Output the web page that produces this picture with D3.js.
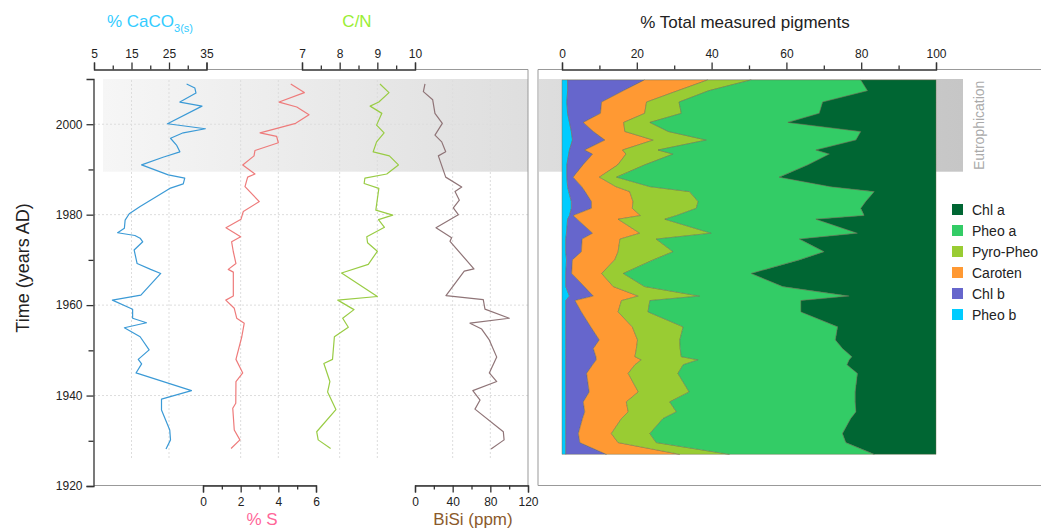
<!DOCTYPE html>
<html>
<head>
<meta charset="utf-8">
<script src="https://cdn.jsdelivr.net/npm/d3@7"></script>
<style>
  body { margin: 0; background: #fff; }
  text { font-family: "Liberation Sans", Arial, sans-serif; }
  .axis text { font-size: 12px; fill: #222; }
  .axis line, .axis path { stroke: #333; stroke-width: 1.3; fill: none; }
  .frame { stroke: #999; stroke-width: 1; fill: none; }
  .grid { stroke: #ddd; stroke-width: 1; stroke-dasharray: 2,2; }
</style>
</head>
<body>
<div id="chart"></div>
<script>
// ---- dados ----
var caco3Years  = [2008.9,2008.0,2006.9,2004.9,2004.0,2000.1,1999.0,1998.1,1996.9,1995.4,1993.9,1992.7,1991.0,1988.8,1988.1,1986.8,1985.8,1984.0,1981.8,1980.2,1978.8,1977.0,1976.0,1975.4,1974.8,1974.0,1972.2,1969.2,1967.9,1967.0,1962.2,1961.1,1959.1,1957.1,1956.1,1955.0,1953.0,1950.1,1948.0,1947.0,1945.0,1941.1,1939.2,1936.8,1932.4,1930.2,1928.2];
var caco3Values = [29.7,31.9,32.2,27.9,33.8,24.6,34.7,28.8,25.4,27.0,27.9,23.4,17.7,24.8,29.2,28.8,25.2,21.7,17.3,14.4,13.3,13.1,11.3,15.9,17.3,18.0,15.7,16.5,20.1,22.8,17.5,9.9,15.3,15.3,19.0,13.1,17.3,19.7,16.8,17.7,16.2,31.0,23.0,23.0,25.2,25.4,24.2];

var sYears  = [2008.9,2007.0,2004.9,2003.8,2002.1,2000.2,1998.1,1997.3,1995.9,1994.2,1993.0,1991.0,1989.0,1988.3,1986.2,1982.9,1980.7,1979.0,1977.1,1975.1,1974.0,1971.8,1969.2,1967.9,1967.3,1962.0,1961.1,1959.3,1957.1,1956.0,1953.0,1948.0,1945.0,1943.1,1938.3,1937.2,1932.4,1930.2,1928.3];
var sValues = [4.66,5.38,4.04,4.98,5.63,4.92,3.03,3.91,4.0,2.76,2.71,2.11,2.76,2.37,2.23,2.99,2.14,2.02,1.22,2.0,1.52,1.61,1.75,1.34,1.61,1.61,1.21,1.66,1.79,2.19,2.06,1.75,2.11,1.75,1.74,1.58,1.66,1.96,1.49];

var cnYears  = [2008.9,2007.0,2004.9,2004.0,2002.4,1999.8,1998.1,1996.1,1993.9,1993.0,1991.0,1989.0,1988.1,1986.9,1985.8,1981.0,1979.9,1978.9,1977.2,1975.1,1973.8,1971.9,1969.0,1967.1,1961.9,1961.1,1959.0,1957.1,1955.1,1953.0,1948.0,1947.1,1943.1,1940.8,1936.9,1932.0,1930.2,1928.3];
var cnValues = [9.07,9.31,9.04,8.81,9.12,8.98,9.18,8.98,8.89,9.32,9.56,9.25,8.67,8.65,9.04,8.96,9.41,9.03,9.19,8.72,8.74,9.0,8.76,8.05,9.0,7.95,8.38,8.08,8.23,7.86,7.81,7.58,7.74,7.68,7.90,7.39,7.43,7.76];

var bisiYears  = [2008.9,2007.2,2005.4,2002.4,2000.2,1997.6,1996.1,1993.9,1993.0,1988.3,1986.1,1985.1,1983.2,1981.5,1980.0,1977.1,1974.9,1974.1,1968.0,1967.5,1962.1,1961.2,1959.1,1957.1,1956.0,1954.7,1952.3,1948.5,1945.0,1943.1,1941.1,1939.0,1937.0,1932.0,1930.2,1928.2];
var bisiValues = [10.6,8.9,18.8,21.2,29.0,21.2,28.4,32.6,24.8,32.6,49.6,42.5,47.1,40.7,46.0,22.3,38.9,37.2,62.6,52.3,32.9,72.5,74.3,100.1,58.4,70.8,78.9,86.8,78.9,86.8,61.4,69.1,63.7,93.8,94.6,80.8];

// pigmentos (% do total), do mais à esquerda para o mais à direita
var pigYears = [2009.8,2007.4,2004.9,2002.4,2000.4,1998.4,1996.5,1994.3,1993.4,1991.0,1988.3,1986.2,1985.1,1982.9,1981.4,1979.8,1979.0,1975.9,1974.6,1971.8,1970.0,1967.0,1964.1,1962.0,1961.0,1958.5,1955.2,1952.3,1950.4,1948.6,1947.9,1946.8,1944.9,1940.8,1938.6,1936.4,1934.9,1931.6,1929.6,1927.0];
var pheoB    = [1.5,1.5,1.3,1.5,2.0,2.5,2.8,2.0,1.8,1.3,1.3,1.5,1.8,2.5,2.5,2.0,1.5,1.2,1.0,1.0,1.2,1.0,1.0,2.0,1.0,1.0,1.0,1.0,1.0,1.0,1.0,1.0,1.0,1.0,1.0,1.0,1.0,1.0,1.0,1.0];
var chlB     = [20.6,14.9,9.3,8.8,3.7,5.9,8.7,4.1,6.4,4.3,1.7,3.8,4.4,5.4,5.4,1.0,2.6,7.0,4.4,4.2,1.6,1.6,5.0,6.4,2.5,4.2,6.7,9.0,7.4,8.1,8.2,7.2,5.6,6.3,4.7,5.1,4.5,3.4,3.8,10.9];
var caroten  = [16.9,14.5,12.0,11.8,10.8,8.4,12.9,10.1,8.9,9.3,7.0,9.1,11.9,11.1,10.9,18.0,10.9,12.6,10.1,9.8,11.3,8.0,7.7,12.0,12.4,9.8,11.1,10.2,11.5,10.4,12.0,11.3,11.1,13.1,11.5,11.6,10.4,8.8,10.2,19.6];
var pyroPheo = [11.6,8.3,8.7,9.8,7.0,11.6,14.2,9.5,12.6,7.2,4.6,9.1,16.0,17.4,17.1,9.6,12.5,19.1,9.7,14.7,10.3,5.8,8.4,16.4,7.6,8.0,13.6,11.3,11.7,12.4,15.2,12.9,13.3,13.6,11.6,12.9,11.1,10.3,10.2,13.3];
var pheoA    = [29.3,42.5,38.4,36.9,36.9,51.5,40.0,42.2,41.8,43.6,43.5,48.3,49.4,44.8,44.0,50.2,40.4,39.1,38.3,40.4,39.1,34.2,36.9,40.0,40.4,40.9,41.3,41.6,43.4,45.6,40.4,43.8,48.0,44.4,49.6,48.0,50.2,51.5,50.7,38.7];
var chlA     = [20.1,18.3,30.3,31.2,39.6,20.1,21.4,32.1,28.5,34.3,41.9,28.2,16.5,18.8,20.1,19.2,32.1,21.0,36.5,29.9,36.5,49.4,41.0,23.2,36.1,36.1,26.3,26.9,25.0,22.5,23.2,23.8,21.0,21.6,21.6,21.4,22.8,25.0,24.1,16.5];

var pigKeys   = ["Pheo b", "Chl b", "Caroten", "Pyro-Pheo", "Pheo a", "Chl a"];
var pigSeries = [pheoB, chlB, caroten, pyroPheo, pheoA, chlA];
var pigColors = ["#00ccff", "#6666cc", "#ff9933", "#99cc33", "#33cc66", "#006633"];
var legendKeys = ["Chl a", "Pheo a", "Pyro-Pheo", "Caroten", "Chl b", "Pheo b"];

var yearTicks   = [1920, 1930, 1940, 1950, 1960, 1970, 1980, 1990, 2000];
var eutroPeriod = [1989.5, 2010];

// ---- svg ----
var width = 1041, height = 531;
var svg = d3.select("#chart").append("svg")
  .attr("width", width)
  .attr("height", height);

// escalas
var yScale = d3.scaleLinear().domain([1920, 2010]).range([486, 79]);
var caco3X = d3.scaleLinear().domain([5, 35]).range([94, 206.5]);
var sX     = d3.scaleLinear().domain([0, 6]).range([203, 316]);
var cnX    = d3.scaleLinear().domain([7, 10]).range([302, 415]);
var bisiX  = d3.scaleLinear().domain([0, 120]).range([415, 528]);
var pigX   = d3.scaleLinear().domain([0, 100]).range([562, 936]);

var topY = 69.5, bottomY = 485.5;

// faixa de eutrofização (gradiente)
var defs = svg.append("defs");
var grad = defs.append("linearGradient")
  .attr("id", "eutroGrad")
  .attr("gradientUnits", "userSpaceOnUse")
  .attr("x1", 103).attr("x2", 963).attr("y1", 0).attr("y2", 0);
grad.append("stop").attr("offset", "0%").attr("stop-color", "#f6f6f6");
grad.append("stop").attr("offset", "100%").attr("stop-color", "#c6c6c6");

svg.append("rect")
  .attr("x", 103).attr("width", 528 - 103)
  .attr("y", yScale(eutroPeriod[1])).attr("height", yScale(eutroPeriod[0]) - yScale(eutroPeriod[1]))
  .attr("fill", "url(#eutroGrad)");
svg.append("rect")
  .attr("x", 539).attr("width", 963 - 539)
  .attr("y", yScale(eutroPeriod[1])).attr("height", yScale(eutroPeriod[0]) - yScale(eutroPeriod[1]))
  .attr("fill", "url(#eutroGrad)");

svg.append("text")
  .text("Eutrophication")
  .attr("transform", "translate(984," + ((yScale(eutroPeriod[0]) + yScale(eutroPeriod[1])) / 2) + ") rotate(-90)")
  .attr("text-anchor", "middle")
  .attr("font-size", 14)
  .attr("fill", "#aaa");

// grades pontilhadas
[1940, 1960, 1980, 2000].forEach(function(yr) {
  svg.append("line").attr("class", "grid")
    .attr("x1", 94).attr("x2", 528)
    .attr("y1", yScale(yr)).attr("y2", yScale(yr));
});
[[caco3X, [15, 25]], [sX, [2, 4]], [cnX, [8, 9]], [bisiX, [40, 80]]].forEach(function(p) {
  p[1].forEach(function(v) {
    svg.append("line").attr("class", "grid")
      .attr("x1", p[0](v)).attr("x2", p[0](v))
      .attr("y1", 80).attr("y2", 458);
  });
});

// moldura dos painéis
svg.append("path").attr("class", "frame")
  .attr("d", "M206.5," + topY + "H302M415," + topY + "H528V" + bottomY + "H415M316," + bottomY + "H203M94," + bottomY + "H203");
svg.append("path").attr("class", "frame")
  .attr("d", "M562," + topY + "H538V" + bottomY + "H1041M936," + topY + "H1041");

// perfis
function drawProfile(years, values, xs, color) {
  var pts = years.map(function(yr, i) { return [xs(values[i]), yScale(yr)]; });
  svg.append("path")
    .attr("d", d3.line()(pts))
    .attr("fill", "none")
    .attr("stroke", color)
    .attr("stroke-width", 1.2)
    .attr("stroke-linejoin", "round");
}
drawProfile(caco3Years, caco3Values, caco3X, "#3b9ad6");
drawProfile(sYears, sValues, sX, "#ee7b7b");
drawProfile(cnYears, cnValues, cnX, "#99cc44");
drawProfile(bisiYears, bisiValues, bisiX, "#8f7477");

// áreas empilhadas de pigmentos
var pigRows = pigYears.map(function(yr, i) {
  var row = { year: yr };
  pigKeys.forEach(function(k, j) { row[k] = pigSeries[j][i]; });
  return row;
});
var stacked = d3.stack().keys(pigKeys)(pigRows);
var area = d3.area()
  .y(function(d) { return yScale(d.data.year); })
  .x0(function(d) { return pigX(d[0]); })
  .x1(function(d) { return pigX(d[1]); });

svg.selectAll(".pig")
  .data(stacked)
  .enter().append("path")
  .attr("class", "pig")
  .attr("d", area)
  .attr("fill", function(d, i) { return pigColors[i]; })
  .attr("stroke", "#6a6a4a")
  .attr("stroke-width", 0.6)
  .attr("stroke-opacity", 0.7);

// eixos
function scaleAxis(xs, ticks, labelled, y, orient) {
  var axis = (orient === "top" ? d3.axisTop(xs) : d3.axisBottom(xs))
    .tickValues(ticks)
    .tickSizeOuter(0)
    .tickSize(7)
    .tickPadding(5)
    .tickFormat(function(d) { return labelled.indexOf(d) >= 0 ? d : ""; });
  var g = svg.append("g")
    .attr("class", "axis")
    .attr("transform", "translate(0," + y + ")")
    .call(axis);
  g.selectAll(".tick line")
    .attr("y2", function(d) { return (labelled.indexOf(d) >= 0 ? 7 : 4) * (orient === "top" ? -1 : 1); });
  return g;
}
scaleAxis(caco3X, [5, 10, 15, 20, 25, 30, 35], [5, 15, 25, 35], topY, "top");
scaleAxis(cnX, [7, 7.5, 8, 8.5, 9, 9.5, 10], [7, 8, 9, 10], topY, "top");
scaleAxis(pigX, d3.range(0, 101, 10), [0, 20, 40, 60, 80, 100], topY, "top");
scaleAxis(sX, [0, 1, 2, 3, 4, 5, 6], [0, 2, 4, 6], bottomY, "bottom");
scaleAxis(bisiX, [0, 20, 40, 60, 80, 100, 120], [0, 40, 80, 120], bottomY, "bottom");

var yAxis = d3.axisLeft(yScale)
  .tickValues(yearTicks)
  .tickSizeOuter(0)
  .tickSize(7)
  .tickPadding(4)
  .tickFormat(function(d) { return d % 20 === 0 ? d : ""; });
var yg = svg.append("g")
  .attr("class", "axis")
  .attr("transform", "translate(93.5,0)")
  .call(yAxis);
yg.selectAll(".tick line").attr("x2", function(d) { return d % 20 === 0 ? -7 : -5; });
yg.selectAll(".tick text").attr("font-size", 14);

// títulos
svg.append("text")
  .text("Time (years AD)")
  .attr("transform", "translate(29,268) rotate(-90)")
  .attr("text-anchor", "middle")
  .attr("font-size", 18)
  .attr("fill", "#222");

var caTitle = svg.append("text")
  .attr("x", 150).attr("y", 27)
  .attr("text-anchor", "middle")
  .attr("font-size", 17)
  .attr("fill", "#33ccff");
caTitle.append("tspan").text("% CaCO");
caTitle.append("tspan").text("3(s)").attr("font-size", 11).attr("dy", 5);

svg.append("text").text("C/N")
  .attr("x", 357).attr("y", 27)
  .attr("text-anchor", "middle")
  .attr("font-size", 17)
  .attr("fill", "#99ee33");

svg.append("text").text("% S")
  .attr("x", 262).attr("y", 525)
  .attr("text-anchor", "middle")
  .attr("font-size", 17)
  .attr("fill", "#ff6699");

svg.append("text").text("BiSi (ppm)")
  .attr("x", 473).attr("y", 525)
  .attr("text-anchor", "middle")
  .attr("font-size", 17)
  .attr("fill", "#8b5a2b");

svg.append("text").text("% Total measured pigments")
  .attr("x", 745).attr("y", 28)
  .attr("text-anchor", "middle")
  .attr("font-size", 17)
  .attr("fill", "#222");

// legenda
var legend = svg.append("g").attr("transform", "translate(952,204)");
legendKeys.forEach(function(k, i) {
  legend.append("rect")
    .attr("x", 0).attr("y", i * 21)
    .attr("width", 11).attr("height", 11)
    .attr("fill", pigColors[pigKeys.indexOf(k)]);
  legend.append("text")
    .text(k)
    .attr("x", 20).attr("y", i * 21 + 10.5)
    .attr("font-size", 14)
    .attr("fill", "#222");
});
</script>
</body>
</html>
